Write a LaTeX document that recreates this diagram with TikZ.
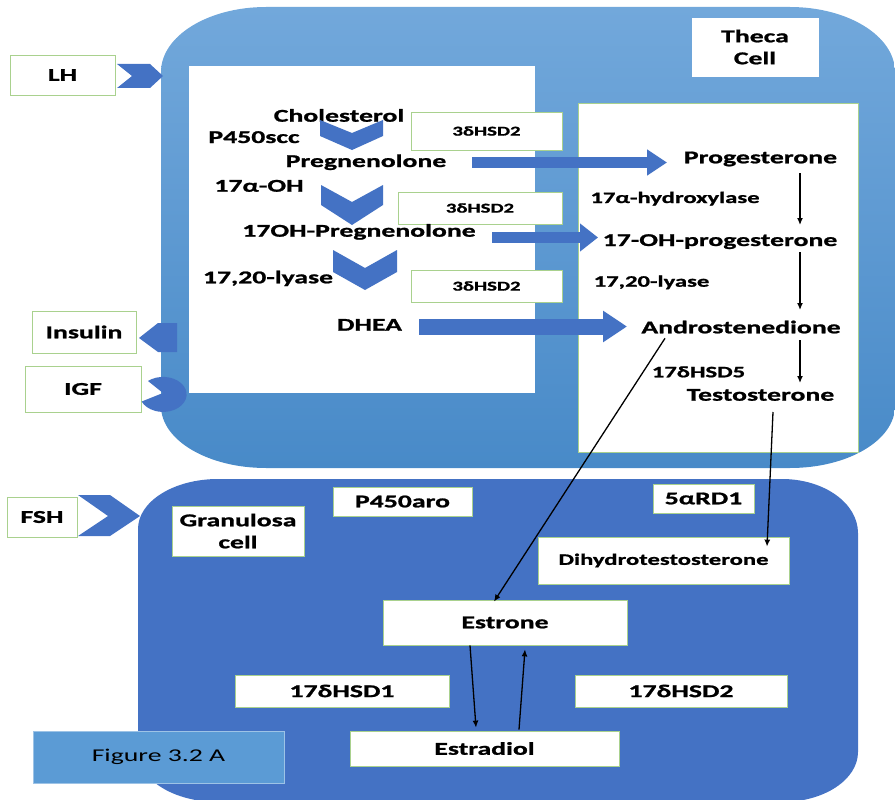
\documentclass[tikz,border=0pt]{standalone}
\usepackage{fontspec}
\setmainfont{Carlito}[FakeStretch=1.54, BoldFeatures={FakeBold=1.2}]
\usetikzlibrary{arrows.meta,calc}
\definecolor{dblue}{RGB}{68,114,196}
\definecolor{thtop}{RGB}{114,168,219}
\definecolor{thbot}{RGB}{72,138,200}
\definecolor{figblue}{RGB}{91,155,213}
\definecolor{bgreen}{RGB}{169,209,142}
\begin{document}
\begin{tikzpicture}[x=1pt,y=-1pt,
  big/.style={font=\bfseries\fontsize{18}{22}\selectfont},
  mid/.style={font=\bfseries\fontsize{16}{19}\selectfont},
  small/.style={font=\bfseries\fontsize{13.5}{16}\selectfont},
  txt/.style={inner sep=0pt, anchor=base},
  wbox/.style={draw=bgreen, line width=0.8pt, fill=white, inner sep=0pt, align=center},
  thinarrow/.style={draw=black, line width=1.3pt, -{Latex[length=7pt,width=6pt]}},
  fatarrow/.style={draw=dblue, line cap=butt},
  blueshape/.style={fill=dblue}]
\useasboundingbox (0,0) rectangle (895,800);

% Theca cell
\shade[top color=thtop, bottom color=thbot]
  (266,7) -- (790,7) arc[start angle=270, end angle=360, x radius=105, y radius=65]
  -- (895,406) arc[start angle=0, end angle=90, x radius=105, y radius=62]
  -- (266,468) arc[start angle=90, end angle=180, x radius=105, y radius=62]
  -- (161,72) arc[start angle=180, end angle=270, x radius=105, y radius=65] -- cycle;

% Granulosa cell
\fill[dblue]
  (218,479) -- (782,479) arc[start angle=270, end angle=360, x radius=76, y radius=54]
  -- (858,752) arc[start angle=0, end angle=90, x radius=76, y radius=50]
  -- (218,802) arc[start angle=90, end angle=180, x radius=80, y radius=50]
  -- (138,529) arc[start angle=180, end angle=270, x radius=80, y radius=50] -- cycle;

% inner white boxes of the theca cell
\node[fill=white, inner sep=0pt, minimum width=346pt, minimum height=327pt] (leftbox) at (362,229.5) {};
\node[wbox, minimum width=280pt, minimum height=349pt] (rightbox) at (718,277.5) {};
\node[wbox, draw=white, big, minimum width=126pt, minimum height=58pt] (theca) at (755,47) {Theca\\Cell};

% hormone boxes
\node[wbox, big, minimum width=105pt, minimum height=40pt] (lh) at (62.5,75) {LH};
\node[wbox, big, minimum width=104pt, minimum height=42pt] (insulin) at (84,332) {Insulin};
\node[wbox, big, minimum width=116pt, minimum height=46pt] (igf) at (83,389) {IGF};
\node[wbox, big, minimum width=70pt, minimum height=40pt] (fsh) at (42,517) {FSH};

% receptor shapes
\fill[blueshape] (117,64) -- (150,64) -- (163,76) -- (150,88) -- (117,88) -- (132,76) -- cycle;
\fill[blueshape] (139,338) -- (158,323) -- (177,323) -- (177,352) -- (158,352) -- cycle;
\fill[blueshape] (163,393) -- (148,381) arc[start angle=230, end angle=516, x radius=23.5, y radius=17.5] -- cycle;
\fill[blueshape] (78,495) -- (110,495) -- (140,516) -- (110,536) -- (78,536) -- (108,516) -- cycle;

% 3dHSD2 boxes
\node[wbox, small, minimum width=151pt, minimum height=38pt] (hsda) at (486.5,131) {3δHSD2};
\node[wbox, small, minimum width=164pt, minimum height=32pt] (hsdb) at (480,208) {3δHSD2};
\node[wbox, small, minimum width=151pt, minimum height=32pt] (hsdc) at (486.5,286) {3δHSD2};

% left pathway texts
\node[txt, big] (chol) at (339,121.7) {Cholesterol};
\node[txt, big] (p450scc) at (254,143) {P450scc};
\node[txt, big] (preg) at (366,167) {Pregnenolone};
\node[txt, big] (ohlabel) at (259,191.7) {17α-OH};
\node[txt, big] (ohpreg) at (359,236.7) {17OH-Pregnenolone};
\node[txt, big] (lyasea) at (268,283.3) {17,20-lyase};
\node[txt, big] (dhea) at (369.5,330.7) {DHEA};

% chevrons
\fill[blueshape] (320,120) -- (352,133) -- (383,120) -- (383,136) -- (352,150) -- (320,136) -- cycle;
\fill[blueshape] (321,185) -- (352,202) -- (383,185) -- (383,205) -- (352,225) -- (321,205) -- cycle;
\fill[blueshape] (333,250) -- (365,268) -- (397,250) -- (397,272) -- (365,290) -- (333,272) -- cycle;

% right pathway texts
\node[txt, big] (prog) at (760.5,163.3) {Progesterone};
\node[txt, mid] (hydrox) at (675,203) {17α-hydroxylase};
\node[txt, big] (ohprog) at (720,246) {17-OH-progesterone};
\node[txt, mid] (lyaseb) at (651.5,286.7) {17,20-lyase};
\node[txt, big] (andro) at (741,333.3) {Androstenedione};
\node[txt, mid] (hsdfive) at (698.5,377.3) {17δHSD5};
\node[txt, big] (testo) at (760.5,400.7) {Testosterone};

% fat arrows
\draw[fatarrow, line width=11pt, -{Triangle[length=20pt,width=25pt]}]
  ($(preg.base)+(106,-4.5)$) -- ($(prog.base)+(-93.5,-0.8)$);
\draw[fatarrow, line width=11.6pt, -{Triangle[length=18pt,width=27pt]}]
  ($(ohpreg.base)+(133,0.8)$) -- ($(ohprog.base)+(-122,-8.5)$);
\draw[fatarrow, line width=16pt, -{Triangle[length=24pt,width=30pt]}]
  ($(dhea.base)+(49.5,-4.2)$) -- ($(andro.base)+(-114,-6.8)$);

% granulosa boxes
\node[wbox, big, minimum width=132pt, minimum height=50pt] (gran) at (238,531) {Granulosa\\cell};
\node[wbox, big, minimum width=139pt, minimum height=29pt] (aro) at (402.5,501.5) {P450aro};
\node[wbox, big, minimum width=101pt, minimum height=29pt] (rd) at (703.5,498.5) {5αRD1};
\node[wbox, mid, minimum width=251pt, minimum height=47pt] (dht) at (663.5,560.5) {Dihydrotestosterone};
\node[wbox, big, minimum width=244pt, minimum height=45pt] (estrone) at (505,622.5) {Estrone};
\node[wbox, big, minimum width=214pt, minimum height=32pt] (hsdone) at (342,691) {17δHSD1};
\node[wbox, big, minimum width=212pt, minimum height=32pt] (hsdtwo) at (681,691) {17δHSD2};
\node[wbox, big, minimum width=269pt, minimum height=35pt] (estradiol) at (484.5,748.5) {Estradiol};
\node[draw=figblue!60!white, line width=0.8pt, fill=figblue, inner sep=0pt,
      font=\fontsize{18}{22}\selectfont, minimum width=251pt, minimum height=52pt] (fig) at (158.5,757) {Figure 3.2 A};

% thin arrows
\draw[thinarrow] ($(prog.base)+(39.5,10)$) -- ($(ohprog.base)+(80,-21)$);
\draw[thinarrow] ($(ohprog.base)+(80,6)$) -- ($(andro.base)+(59,-23.3)$);
\draw[thinarrow] ($(andro.base)+(59,7)$) -- ($(testo.base)+(39.5,-17.7)$);
\draw[thinarrow] ($(andro.base)+(-76,5)$) -- ($(estrone.north)+(-11,2)$);
\draw[thinarrow] ($(testo.base)+(12.5,11.3)$) -- ($(dht.north)+(103.5,10)$);
\draw[thinarrow] ($(estrone.south)+(-35,0)$) -- ($(estradiol.north)+(-8.5,-3)$);
\draw[thinarrow] ($(estradiol.north)+(34.5,-1)$) -- ($(estrone.south)+(20,4)$);
\end{tikzpicture}
\end{document}
